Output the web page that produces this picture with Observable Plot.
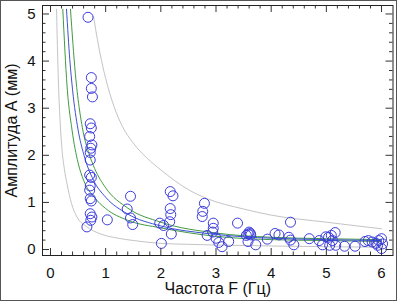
<!DOCTYPE html>
<html>
<head>
<meta charset="utf-8">
<script src="https://cdn.jsdelivr.net/npm/d3@7"></script>
<script src="https://cdn.jsdelivr.net/npm/@observablehq/plot@0.6"></script>
<style>
  html, body { margin: 0; padding: 0; background: #fff; }
  #wrap { position: relative; width: 397px; height: 302px; overflow: hidden; }
  #border { position: absolute; left: 0; top: 0; width: 397px; height: 301px; box-sizing: border-box; border: 1px solid #555; pointer-events: none; }
</style>
</head>
<body>
<div id="wrap"><div id="border"></div></div>
<script>
// Observed points: frequency F (Hz) and amplitude A (mm)
const pointF = [0.68,0.74,0.74,0.76,0.72,0.74,0.71,0.75,0.73,0.72,0.72,0.71,0.74,0.72,0.71,0.72,0.74,0.72,0.75,0.73,0.66,
  1.03,1.45,1.39,1.45,1.49,1.98,2.05,2.01,2.17,2.22,2.17,2.18,2.16,2.19,
  2.79,2.76,2.75,2.95,2.95,2.94,2.84,3.00,3.05,3.11,3.23,3.39,3.55,3.60,3.62,3.63,3.58,3.58,3.72,3.93,
  4.07,4.14,4.32,4.35,4.35,4.41,4.69,4.87,4.93,4.99,5.04,5.09,5.16,5.11,5.06,5.17,5.33,5.52,
  5.70,5.76,5.83,5.90,5.95,6.00,6.02,6.00,5.93];
const pointA = [4.93,3.65,3.42,3.24,2.67,2.58,2.40,2.22,2.15,2.06,1.90,1.58,1.53,1.35,1.26,1.08,1.03,0.76,0.69,0.62,0.48,
  0.63,1.13,0.86,0.67,0.53,0.56,0.51,0.13,1.23,1.14,0.87,0.74,0.59,0.33,
  0.98,0.81,0.70,0.56,0.45,0.37,0.30,0.24,0.15,0.06,0.17,0.56,0.30,0.37,0.34,0.31,0.33,0.17,0.10,0.22,
  0.34,0.31,0.26,0.20,0.58,0.10,0.23,0.19,0.10,0.27,0.26,0.30,0.36,0.19,0.09,0.09,0.07,0.07,
  0.17,0.19,0.16,0.13,0.19,0.23,0.12,0.02,0.09];

// Curves
const innerGreyF = [0.11,0.13,0.15,0.18,0.21,0.25,0.30,0.38,0.48,0.65,0.91,1.2,1.51,2.0,2.5,3,4,5,6];
const innerGreyA = [5.1,4.1,3.35,2.6,2.1,1.72,1.39,0.98,0.69,0.49,0.33,0.245,0.19,0.13,0.11,0.095,0.075,0.06,0.05];
const green1F = [0.223,0.30,0.39,0.50,0.60,0.80,1.0,1.4,2.0,3.0,4.0,5.0,6.0];
const green1A = [5.1,3.47,2.54,1.84,1.47,1.10,0.87,0.62,0.46,0.28,0.21,0.19,0.17];
const blueF = [0.29,0.35,0.40,0.50,0.60,0.78,1.0,1.39,2.0,2.84,3.5,4.0,5.0,6.0];
const blueA = [5.1,4.03,3.39,2.54,2.03,1.47,1.11,0.76,0.50,0.34,0.27,0.24,0.21,0.19];
const green2F = [0.362,0.45,0.585,0.70,0.80,1.0,1.4,2.0,3.0,4.0,5.0,6.0];
const green2A = [5.1,3.74,2.54,2.03,1.72,1.31,0.88,0.58,0.35,0.26,0.23,0.21];
const outerGreyF = [0.78,0.85,0.90,1.0,1.15,1.3,1.5,1.75,2.0,2.5,2.84,3.5,4.0,5.0,6.0];
const outerGreyA = [4.95,4.46,4.15,3.63,3.04,2.62,2.26,1.94,1.69,1.27,1.08,0.86,0.73,0.58,0.44];

// Ticks
const xMajor = [0,1,2,3,4,5,6];
const yMajor = [0,1,2,3,4,5];
const xMinor = d3.range(1, 31).map(i => i * 0.2).filter(v => Math.abs(v - Math.round(v)) > 1e-6);
const yMinor = d3.range(1, 26).map(i => i * 0.2).filter(v => Math.abs(v - Math.round(v)) > 1e-6);

const xTitle = "Частота F (Гц)";
const yTitle = "Амплитуда А (мм)";

const toRows = (F, A) => F.map((f, i) => ({F: f, A: A[i]}));
const points = toRows(pointF, pointA);

const W = 397, H = 302, ML = 42, MT = 5, MR = 4.5, MB = 47;
const PW = W - ML - MR, PH = H - MT - MB;
const majorLen = 7, minorLen = 3.5;
const tickColor = "#333";

const curve = (F, A, stroke) => Plot.line(toRows(F, A), {x: "F", y: "A", stroke, strokeWidth: 1, curve: "monotone-x"});

const chart = Plot.plot({
  width: W, height: H,
  marginLeft: ML, marginTop: MT, marginRight: MR, marginBottom: MB,
  x: {domain: [-0.145, 6.208]},
  y: {domain: [-0.127, 5.18]},
  style: {fontFamily: "'Liberation Sans', Arial, sans-serif", fontSize: "15px", background: "transparent", color: "#111"},
  marks: [
    curve(innerGreyF, innerGreyA, "#c4c4c4"),
    curve(outerGreyF, outerGreyA, "#c4c4c4"),
    curve(green1F, green1A, "#3f9a3f"),
    curve(green2F, green2A, "#3f9a3f"),
    curve(blueF, blueA, "#3d4fd4"),
    Plot.dot(points, {x: "F", y: "A", r: 5, stroke: "#3b3bdc", strokeWidth: 1, fill: "none"}),
    // inward ticks: bottom, top, left, right
    Plot.ruleX(xMajor, {x: d => d, insetTop: PH - majorLen, stroke: tickColor}),
    Plot.ruleX(xMinor, {x: d => d, insetTop: PH - minorLen, stroke: tickColor}),
    Plot.ruleX(xMajor, {x: d => d, insetBottom: PH - majorLen, stroke: tickColor}),
    Plot.ruleX(xMinor, {x: d => d, insetBottom: PH - minorLen, stroke: tickColor}),
    Plot.ruleY(yMajor, {y: d => d, insetRight: PW - majorLen, stroke: tickColor}),
    Plot.ruleY(yMinor, {y: d => d, insetRight: PW - minorLen, stroke: tickColor}),
    Plot.ruleY(yMajor, {y: d => d, insetLeft: PW - majorLen, stroke: tickColor}),
    Plot.ruleY(yMinor, {y: d => d, insetLeft: PW - minorLen, stroke: tickColor}),
    Plot.frame({stroke: "#222"}),
    Plot.axisX(xMajor, {tickSize: 0, tickPadding: 12, label: null, fontSize: 15}),
    Plot.axisY(yMajor, {tickSize: 0, tickPadding: 7, label: null, fontSize: 15}),
    Plot.text([xTitle], {text: d => d, frameAnchor: "bottom", dy: 38, fontSize: 16, fill: "#111"}),
    Plot.text([yTitle], {text: d => d, frameAnchor: "left", textAnchor: "middle", lineAnchor: "middle", dx: -31, rotate: -90, fontSize: 16, fill: "#111"})
  ]
});
document.getElementById("wrap").prepend(chart);
</script>
</body>
</html>
